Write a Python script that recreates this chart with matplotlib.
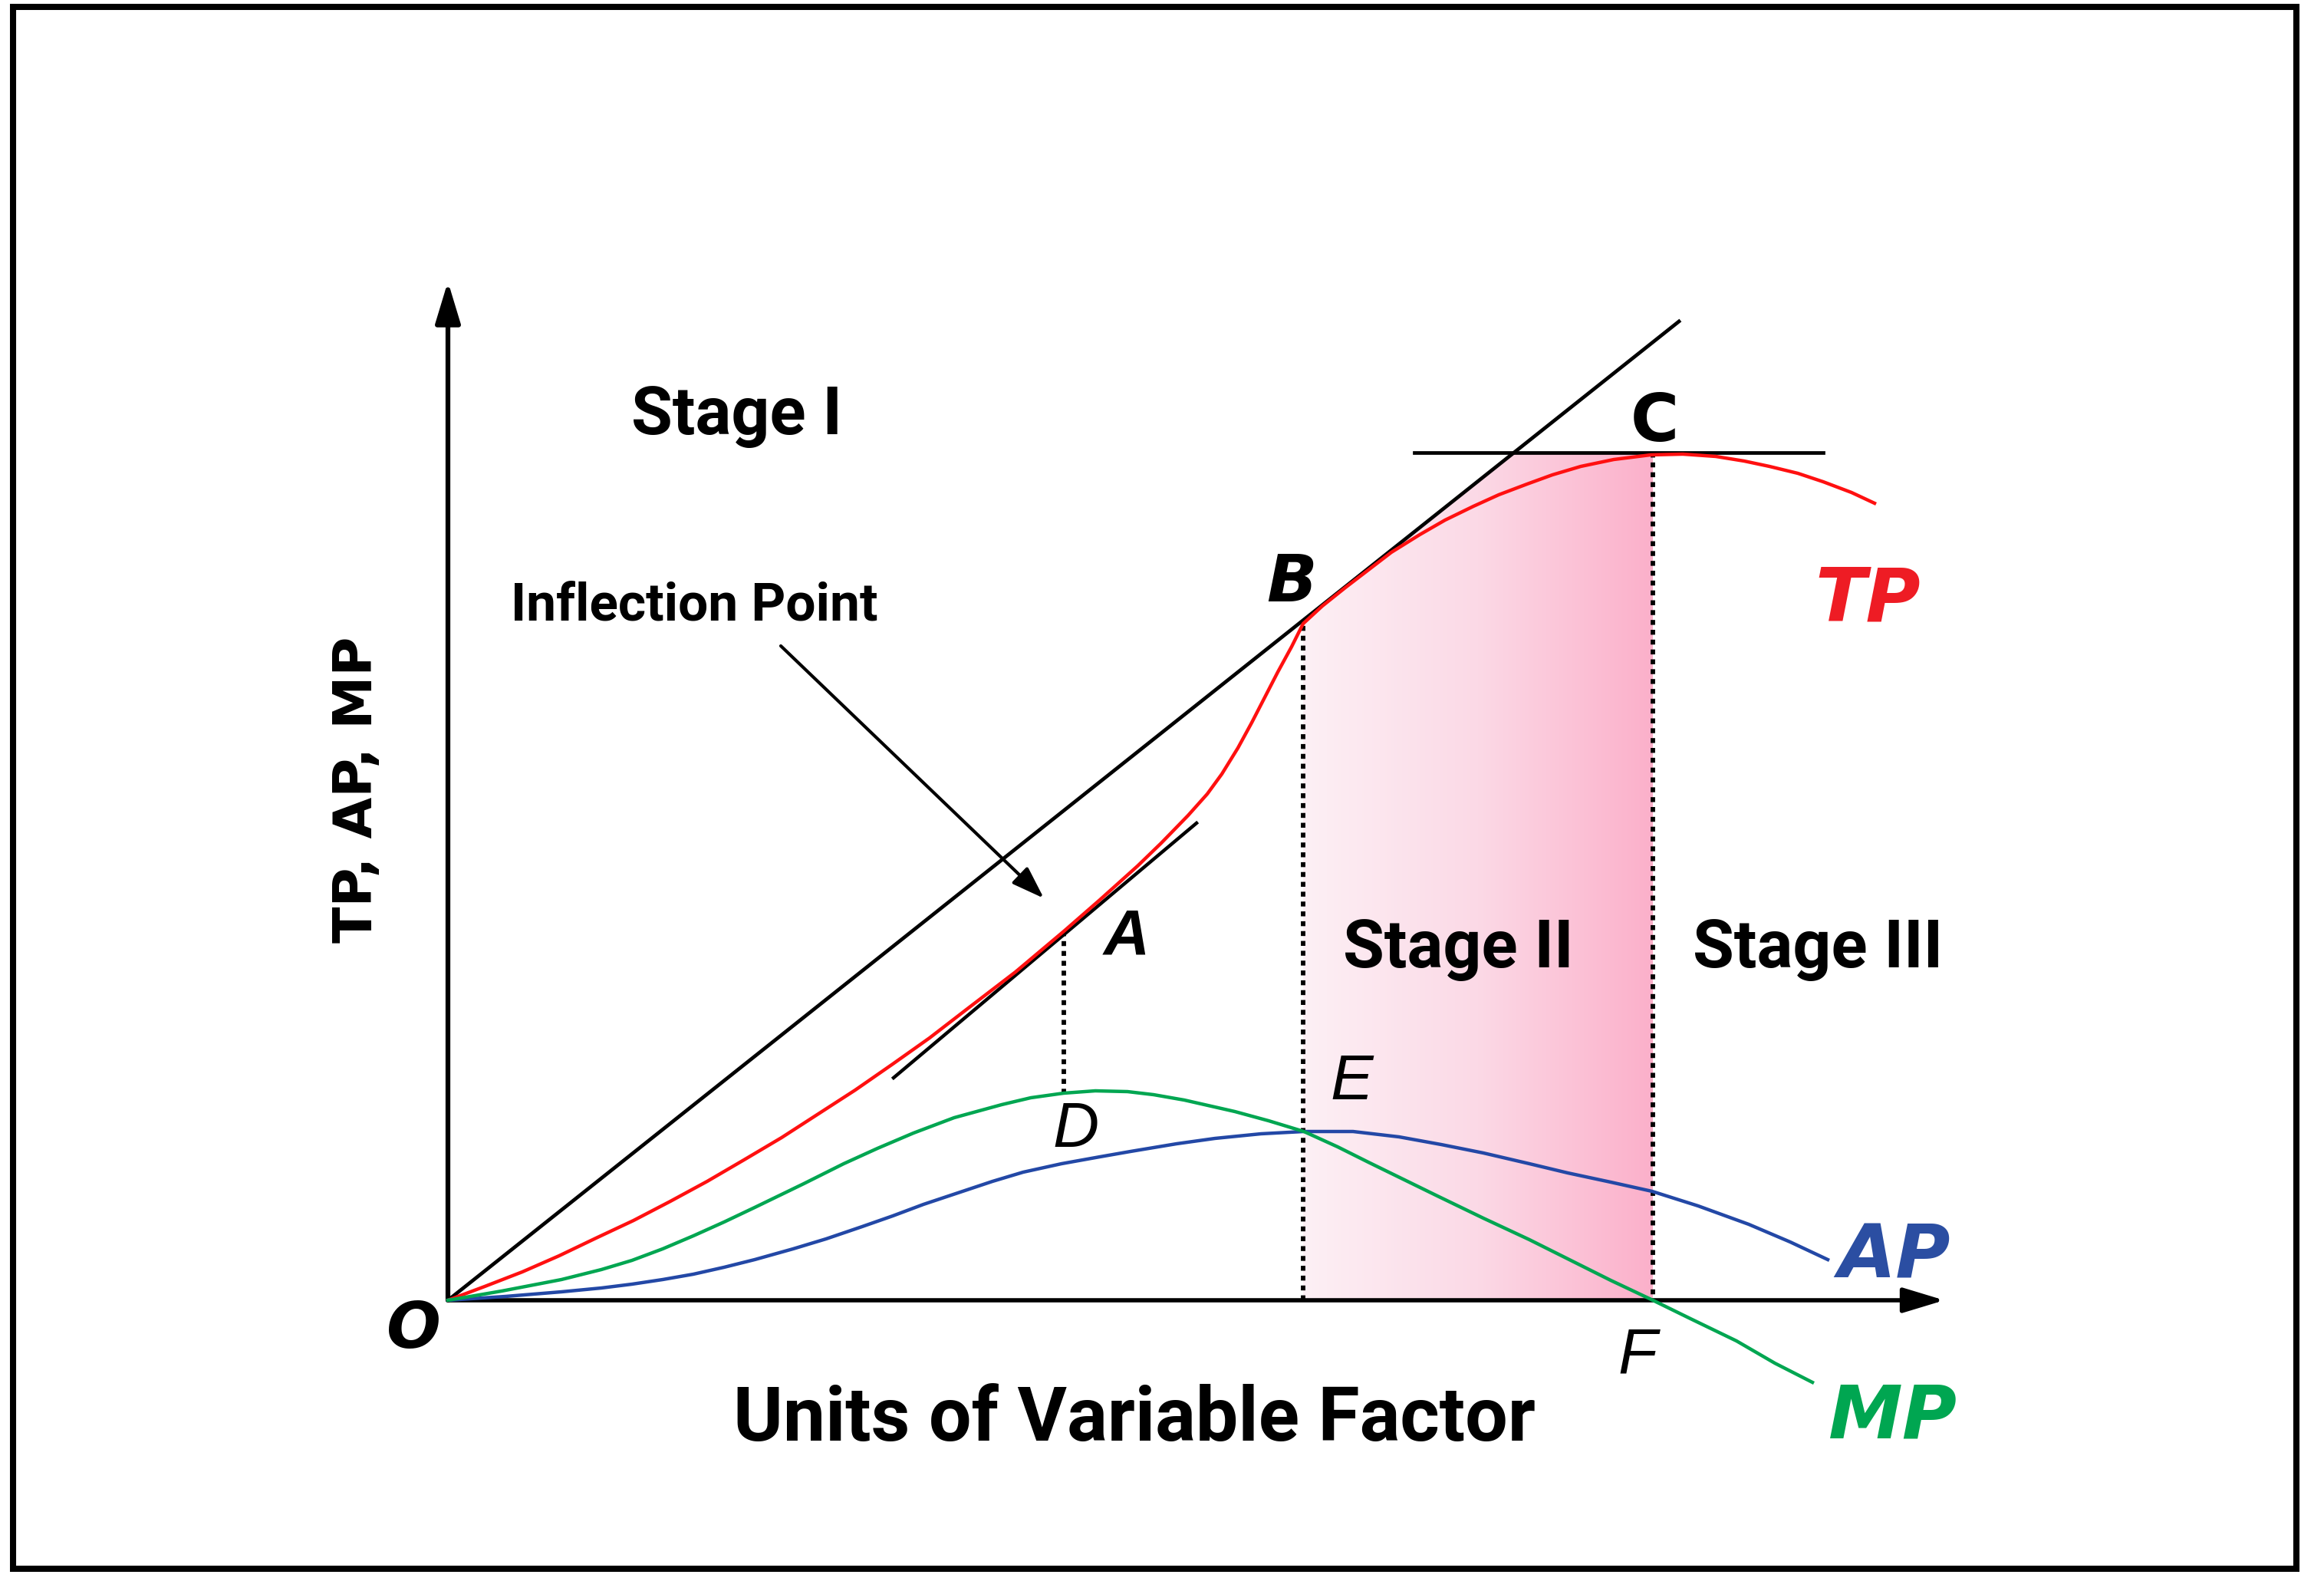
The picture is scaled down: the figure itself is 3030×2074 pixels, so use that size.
import numpy as np
import matplotlib
matplotlib.use("Agg")
from matplotlib import pyplot as plt
from matplotlib.patches import Rectangle, Polygon
from matplotlib.colors import LinearSegmentedColormap

# units of variable factor (x) and output (y)
tp_x = [0, 0.48, 0.97, 1.45, 1.93, 2.42, 2.90, 3.38, 3.86, 4.35, 4.83, 5.31,
        5.80, 6.28, 6.76, 7.40, 8.03, 8.50, 8.99, 9.30, 9.65, 9.90, 10.09,
        10.30, 10.48, 10.65, 10.82, 11.00, 11.15, 11.40, 11.70, 12.00, 12.30,
        12.67, 13.00, 13.37, 13.70, 14.07, 14.40, 14.77, 15.20, 15.68, 16.10,
        16.53, 16.90, 17.23, 17.60, 17.93, 18.30, 18.60]
tp_y = [0, 0.18, 0.37, 0.58, 0.81, 1.04, 1.29, 1.55, 1.83, 2.12, 2.43, 2.74,
        3.08, 3.42, 3.79, 4.28, 4.81, 5.22, 5.66, 5.96, 6.32, 6.60, 6.86,
        7.20, 7.53, 7.86, 8.19, 8.52, 8.82, 9.05, 9.29, 9.52, 9.75,
        9.98, 10.17, 10.35, 10.50, 10.64, 10.76, 10.87, 10.96, 11.02, 11.03,
        11.00, 10.94, 10.87, 10.78, 10.67, 10.53, 10.39]

ap_x = [0, 0.75, 1.48, 2.0, 2.4, 2.8, 3.2, 3.6, 4.0, 4.5, 4.93, 5.4, 5.8,
        6.2, 6.65, 7.1, 7.5, 8.0, 8.5, 8.9, 9.5, 10.0, 10.6, 11.16, 11.8,
        12.4, 12.95, 13.5, 14.1, 14.6, 15.16, 15.7, 16.3, 16.96, 17.5, 17.99]
ap_y = [0, 0.05, 0.11, 0.16, 0.21, 0.27, 0.34, 0.43, 0.53, 0.67, 0.80, 0.96,
        1.10, 1.25, 1.40, 1.55, 1.67, 1.78, 1.87, 1.94, 2.04, 2.11, 2.17,
        2.20, 2.20, 2.13, 2.03, 1.92, 1.78, 1.66, 1.54, 1.42, 1.23, 0.99,
        0.76, 0.53]

mp_x = [0, 0.7, 1.48, 2.0, 2.4, 2.8, 3.2, 3.6, 4.0, 4.64, 5.16, 5.6, 6.07,
        6.6, 7.22, 7.6, 8.03, 8.44, 8.86, 9.2, 9.6, 10.26, 10.7, 11.16, 11.6,
        12.0, 12.45, 12.9, 13.5, 14.1, 14.6, 15.16, 15.71, 16.2, 16.8, 17.3,
        17.79]
mp_y = [0, 0.12, 0.27, 0.40, 0.52, 0.67, 0.84, 1.02, 1.21, 1.52, 1.78, 1.98,
        2.18, 2.38, 2.55, 2.64, 2.70, 2.73, 2.72, 2.68, 2.61, 2.46, 2.34,
        2.20, 2.00, 1.80, 1.58, 1.36, 1.07, 0.79, 0.54, 0.26, 0.0, -0.24,
        -0.53, -0.82, -1.07]

# key points
pt_A = (8.03, 4.81)
pt_B = (11.15, 8.85)
pt_C = (15.71, 11.05)
pt_D = (8.03, 2.70)
pt_F = (15.71, 0.0)
ray_end = (16.05, 12.76)
tan_A = ([5.81, 9.76], [2.90, 6.22])
tan_C_x = [12.60, 17.93]

fig = plt.figure(figsize=(30.3, 20.74), dpi=100)
ax = fig.add_axes([0, 0, 1, 1])
ax.set_xlim(-5.84, 24.46)
ax.set_ylim(-3.79, 16.95)
ax.axis("off")

# outer frame
fig.patches.append(Rectangle((0.00545, 0.01398), 0.98812 - 0.00545, 0.99566 - 0.01398,
                             transform=fig.transFigure, fill=False, ec="black", lw=5.8))

# stage II shading (gradient, clipped under ray and C tangent)
x_cross = pt_C[1] / (ray_end[1] / ray_end[0])
shade = Polygon([(pt_B[0], 0), (pt_B[0], pt_B[1]), (x_cross, pt_C[1]),
                 (pt_C[0], pt_C[1]), (pt_C[0], 0)], closed=True,
                fc="none", ec="none")
ax.add_patch(shade)
cmap = LinearSegmentedColormap.from_list("pink", ["#fdf0f5", "#fbd9e6", "#fcb0ca"])
grad = np.linspace(0, 1, 256).reshape(1, -1)
im = ax.imshow(grad, cmap=cmap, aspect="auto", interpolation="bilinear",
               extent=[pt_B[0], pt_C[0], 0, pt_C[1]], zorder=0.5)
im.set_clip_path(shade)

# axes with arrows
ax.annotate("", xy=(0, 13.28), xytext=(0, 0),
            arrowprops=dict(arrowstyle="-|>,head_length=3.3,head_width=1.0",
                            lw=4.5, color="black", shrinkA=0, shrinkB=0))
ax.annotate("", xy=(19.51, 0), xytext=(0, 0),
            arrowprops=dict(arrowstyle="-|>,head_length=3.3,head_width=1.0",
                            lw=4.0, color="black", shrinkA=0, shrinkB=0), zorder=3)

# ray from origin through B, tangents at A and C
ax.plot([0, ray_end[0]], [0, ray_end[1]], color="black", lw=3.4, zorder=2)
ax.plot(tan_A[0], tan_A[1], color="black", lw=3.2, zorder=2)
ax.plot(tan_C_x, [pt_C[1], pt_C[1]], color="black", lw=3.4, zorder=2)

# dotted drop lines
dot = dict(color="black", lw=4.2, linestyle=(0, (1.1, 1.1)), zorder=2)
ax.plot([pt_A[0], pt_D[0]], [pt_A[1], pt_D[1]], **dot)
ax.plot([pt_B[0], pt_B[0]], [0, pt_B[1] - 0.05], **dot)
ax.plot([pt_C[0], pt_F[0]], [pt_C[1], 0], **dot)

# curves
ax.plot(tp_x, tp_y, color="#ff1010", lw=3.2, zorder=4, solid_joinstyle="round")
ax.plot(ap_x, ap_y, color="#2348a6", lw=3.2, zorder=4, solid_joinstyle="round")
ax.plot(mp_x, mp_y, color="#00a651", lw=3.2, zorder=4, solid_joinstyle="round")

# inflection point arrow
ax.annotate("", xy=(7.77, 5.24), xytext=(4.34, 8.53),
            arrowprops=dict(arrowstyle="-|>,head_length=2.6,head_width=0.9",
                            lw=3.0, color="black", shrinkA=0, shrinkB=0))

# texts
narrow = ["Roboto", "DejaVu Sans"]
ax.text(3.77, 11.53, "Stage I", fontsize=63, fontweight="bold", family=narrow,
        ha="center", va="center")
ax.text(3.21, 9.05, "Inflection Point", fontsize=50, fontweight="bold", family=narrow,
        ha="center", va="center")
ax.text(13.17, 4.58, "Stage II", fontsize=63, fontweight="bold", family=narrow,
        ha="center", va="center")
ax.text(17.86, 4.58, "Stage III", fontsize=63, fontweight="bold", family=narrow,
        ha="center", va="center")
ax.text(8.95, -1.56, "Units of Variable Factor", fontsize=71, fontweight="bold",
        family=narrow, ha="center", va="center")
ax.text(-1.18, 6.66, "TP, AP, MP", fontsize=50, fontweight="bold", family="DejaVu Sans",
        rotation=90, ha="center", va="center")

lab = dict(fontsize=60, fontstyle="italic", family="Liberation Sans", ha="center", va="center")
ax.text(8.85, 4.73, "A", fontweight="bold", **lab)
ax.text(11.00, 9.35, "B", fontsize=62, fontstyle="italic", fontweight="bold",
        family="DejaVu Sans", ha="center", va="center")
ax.text(15.73, 11.44, "C", fontsize=62, fontweight="bold", family="DejaVu Sans",
        ha="center", va="center")
ax.text(8.19, 2.22, "D", **lab)
ax.text(11.78, 2.84, "E", **lab)
ax.text(15.51, -0.72, "F", **lab)
ax.text(-0.45, -0.38, "O", fontsize=60, fontstyle="italic", fontweight="bold",
        family="DejaVu Sans", ha="center", va="center")

curve_lab = dict(fontsize=70, fontstyle="italic", fontweight="bold",
                 family="DejaVu Sans", ha="center", va="center")
ax.text(18.51, 9.12, "TP", color="#ee1c24", **curve_lab)
ax.text(18.86, 0.56, "AP", color="#2b4ea2", **curve_lab)
ax.text(18.84, -1.53, "MP", color="#00a651", **curve_lab)

fig.savefig("out.png", dpi=100)
